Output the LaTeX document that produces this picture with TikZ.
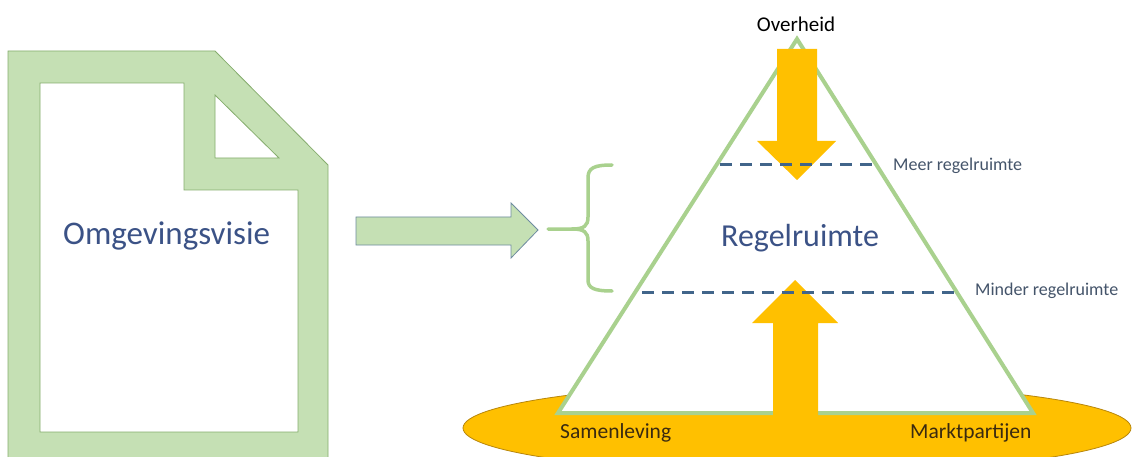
\documentclass[tikz,border=0pt]{standalone}
\usepackage{fontspec}
\setmainfont{Carlito}
\definecolor{docgreen}{HTML}{C5E0B4}
\definecolor{docline}{HTML}{86AD6E}
\definecolor{trigreen}{HTML}{A9D18E}
\definecolor{gold}{HTML}{FFC000}
\definecolor{goldline}{HTML}{B8860B}
\definecolor{dashblue}{HTML}{41658A}
\definecolor{titleblue}{HTML}{3B5286}
\definecolor{labelblue}{HTML}{44546A}
\definecolor{arrowline}{HTML}{6E8CA0}
\definecolor{darktext}{HTML}{3A2A10}
\tikzset{
  bigtext/.style={font=\fontsize{32.5}{38}\selectfont, text=titleblue, inner sep=0pt, anchor=base west},
  sidetext/.style={font=\fontsize{18}{22}\selectfont, text=labelblue, inner sep=0pt, anchor=base west},
  basetext/.style={font=\fontsize{21.5}{26}\selectfont, text=darktext, inner sep=0pt, anchor=base west},
  levelline/.style={draw=dashblue, line width=3pt, dash pattern=on 12pt off 8pt},
  yellowarrow/.style={fill=gold, draw=none},
}
\begin{document}
\begin{tikzpicture}[x=1pt,y=-1pt]
\useasboundingbox (0,0) rectangle (1132,457);
\clip (0,0) rectangle (1132,457);
\fill[white] (0,0) rectangle (1132,457);
% document icon
\path[fill=docgreen, draw=docline, line width=0.8pt, even odd rule]
  (8,51) -- (215,51) -- (328,165) -- (328,470) -- (8,470) -- cycle
  (40,83) -- (184,83) -- (184,190) -- (298,190) -- (298,432) -- (40,432) -- cycle
  (215,95) -- (215,158) -- (279,158) -- cycle;
\node[bigtext, font=\fontsize{33}{38}\selectfont] (omg) at (63,244) {Omgevingsvisie};
% block arrow
\path[fill=docgreen, draw=arrowline, line width=0.8pt]
  (356,217) -- (511,217) -- (511,203) -- (538,230) -- (511,258) -- (511,245) -- (356,245) -- cycle;
% brace
\draw[trigreen, line width=3.5pt, line cap=round]
  (612,165) .. controls (594,165) and (588,168) .. (588,178) -- (588,217)
  .. controls (588,226) and (584,229) .. (572,229) -- (548,229);
\draw[trigreen, line width=3.5pt, line cap=round]
  (572,229) .. controls (584,229) and (588,232) .. (588,241) -- (588,280)
  .. controls (588,288) and (594,291) .. (612,291);
% ellipse
\path[fill=gold, draw=goldline, line width=0.8pt] (797,428) ellipse [x radius=334, y radius=45];
% triangle
\path[fill=white, draw=trigreen, line width=4pt, line join=miter]
  (797,39) -- (1033,413) -- (558,413) -- cycle;
% arrows
\path[yellowarrow] (777,49) -- (817,49) -- (817,141) -- (836,141) -- (797,180) -- (757,141) -- (777,141) -- cycle;
\path[yellowarrow] (773,440) -- (773,323) -- (752,323) -- (795,280) -- (838,323) -- (818,323) -- (818,440) -- cycle;
% level lines
\coordinate (m1) at (720,165);
\coordinate (m2) at (877,165);
\coordinate (n1) at (642,292);
\coordinate (n2) at (957,292);
\draw[levelline] (m1) -- (m2);
\draw[levelline] (n1) -- (n2);
% texts
\node[font=\fontsize{21}{25}\selectfont, text=black, inner sep=0pt, anchor=base] (overheid) at (796,32) {Overheid};
\node[sidetext] (meer) at (893,171) {Meer regelruimte};
\node[sidetext] (minder) at (975,295) {Minder regelruimte};
\node[bigtext, font=\fontsize{32}{38}\selectfont] (regel) at (721,246) {Regelruimte};
\node[basetext] (samen) at (560,438) {Samenleving};
\node[basetext] (markt) at (910,438) {Marktpartijen};
\end{tikzpicture}
\end{document}
